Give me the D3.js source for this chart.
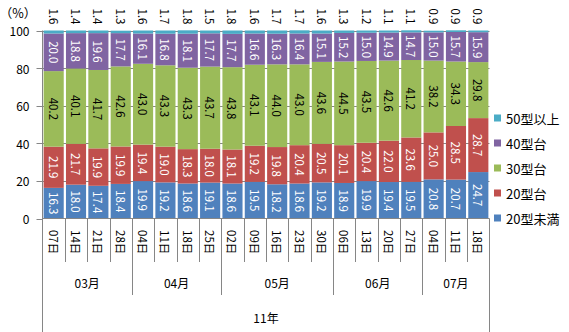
<!DOCTYPE html>
<html>
<head>
<meta charset="utf-8">
<script src="https://cdn.jsdelivr.net/npm/d3@7"></script>
<style>
  html, body { margin: 0; padding: 0; background: #fff; }
  svg { display: block; font-family: "Noto Sans CJK JP", "Noto Sans", sans-serif; }
</style>
</head>
<body>
<svg id="chart" width="569" height="332"></svg>
<script>
// Weekly share of TV sales by screen size (2011, March–July)
const days = ["07日","14日","21日","28日","04日","11日","18日","25日","02日","09日","16日","23日","30日",
              "06日","13日","20日","27日","04日","11日","18日"];
const months = ["03月","03月","03月","03月","04月","04月","04月","04月","05月","05月","05月","05月","05月",
                "06月","06月","06月","06月","07月","07月","07月"];
const yearLabel = "11年";

const seriesNames = ["20型未満","20型台","30型台","40型台","50型以上"];
const under20 = [16.3,18.0,17.4,18.4,19.9,19.2,18.6,19.1,18.6,19.5,18.2,18.6,19.2,18.9,19.9,19.4,19.5,20.8,20.7,24.7];
const size20s = [21.9,21.7,19.9,19.9,19.4,19.0,18.3,18.0,18.1,19.2,19.8,20.4,20.5,20.1,20.4,22.0,23.6,25.0,28.5,28.7];
const size30s = [40.2,40.1,41.7,42.6,43.0,43.3,43.3,43.7,43.8,43.1,44.0,43.0,43.6,44.5,43.5,42.6,41.2,38.2,34.3,29.8];
const size40s = [20.0,18.8,19.6,17.7,16.1,16.8,18.1,17.7,17.7,16.6,16.3,16.4,15.1,15.2,15.0,14.9,14.7,15.0,15.7,15.9];
const size50up = [1.6,1.4,1.4,1.3,1.6,1.7,1.8,1.5,1.8,1.6,1.7,1.7,1.6,1.3,1.2,1.1,1.1,0.9,0.9,0.9];
const yTicks = [0,20,40,60,80,100];

const colors = ["#4F81BD","#C0504D","#9BBB59","#8064A2","#4BACC6"];
const labelColors = ["#fff","#fff","#000","#fff","#000"];
const gridColor = "#868686";

const seriesValues = [under20, size20s, size30s, size40s, size50up];
const rows = days.map((d, i) => {
  const r = { idx: i };
  seriesNames.forEach((s, k) => { r[s] = seriesValues[k][i]; });
  return r;
});

const svg = d3.select("#chart");
const plotLeft = 42.5, plotRight = 489.5, plotTop = 30.5, plotBottom = 218.5;

const x = d3.scaleBand().domain(d3.range(days.length)).range([plotLeft, plotRight])
  .paddingInner(0.1).paddingOuter(0.05);
const y = d3.scaleLinear().domain([0, 100]).range([plotBottom, plotTop]);

// horizontal gridlines
svg.append("g").selectAll("line").data(yTicks.filter(t => t > 0)).join("line")
  .attr("x1", plotLeft).attr("x2", plotRight)
  .attr("y1", d => Math.round(y(d)) + 0.5).attr("y2", d => Math.round(y(d)) + 0.5)
  .attr("stroke", gridColor).attr("stroke-width", 1);

// stacked bars
const stacked = d3.stack().keys(seriesNames)(rows);
const layers = svg.append("g").selectAll("g").data(stacked).join("g")
  .attr("fill", (d, k) => colors[k]);
layers.selectAll("rect").data(d => d).join("rect")
  .attr("x", d => x(d.data.idx))
  .attr("width", x.bandwidth())
  .attr("y", d => y(d[1]))
  .attr("height", d => y(d[0]) - y(d[1]));

// value labels inside segments (rotated); the top series is labelled above the plot
stacked.forEach((layer, k) => {
  const g = svg.append("g")
    .attr("font-size", 11.5)
    .attr("fill", labelColors[k]);
  layer.forEach(d => {
    const cx = x(d.data.idx) + x.bandwidth() / 2;
    const cy = k === 4 ? y(100) - 14 : (y(d[0]) + y(d[1])) / 2;
    g.append("text")
      .attr("transform", `translate(${cx},${cy}) rotate(90)`)
      .attr("text-anchor", "middle")
      .attr("dominant-baseline", "central")
      .text(d.data[seriesNames[k]].toFixed(1));
  });
});

// y axis
const yAxis = svg.append("g");
yAxis.append("line").attr("x1", plotLeft).attr("x2", plotLeft).attr("y1", plotTop).attr("y2", 332)
  .attr("stroke", gridColor);
yAxis.selectAll("line.tick").data(yTicks).join("line").attr("class", "tick")
  .attr("x1", plotLeft - 6).attr("x2", plotLeft)
  .attr("y1", d => Math.round(y(d)) + 0.5).attr("y2", d => Math.round(y(d)) + 0.5)
  .attr("stroke", gridColor);
yAxis.selectAll("text").data(yTicks).join("text")
  .attr("x", plotLeft - 13).attr("y", d => y(d))
  .attr("text-anchor", "end").attr("dominant-baseline", "central")
  .attr("font-size", 12).attr("fill", "#000")
  .text(d => d);
svg.append("text").attr("x", 18).attr("y", 12)
  .attr("text-anchor", "middle").attr("dominant-baseline", "central")
  .attr("font-size", 12.5).text("（%）");

// category axis: baseline
svg.append("line").attr("x1", plotLeft).attr("x2", plotRight).attr("y1", plotBottom).attr("y2", plotBottom)
  .attr("stroke", gridColor);

// day separators and labels
const step = x.step();
const dayEdges = d3.range(1, days.length);
svg.append("g").selectAll("line").data(dayEdges).join("line")
  .attr("x1", i => Math.round(plotLeft + i * step) + 0.5).attr("x2", i => Math.round(plotLeft + i * step) + 0.5)
  .attr("y1", plotBottom).attr("y2", 262)
  .attr("stroke", gridColor);
svg.append("g").selectAll("text").data(days).join("text")
  .attr("transform", (d, i) => `translate(${x(i) + x.bandwidth() / 2},230) rotate(90)`)
  .attr("text-anchor", "start").attr("dominant-baseline", "central")
  .attr("font-size", 11.5).text(d => d);

// month groups
const monthGroups = [];
months.forEach((m, i) => {
  const last = monthGroups[monthGroups.length - 1];
  if (last && last.label === m) last.end = i + 1;
  else monthGroups.push({ label: m, start: i, end: i + 1 });
});
svg.append("g").selectAll("line").data(monthGroups.slice(1)).join("line")
  .attr("x1", g => Math.round(plotLeft + g.start * step) + 0.5).attr("x2", g => Math.round(plotLeft + g.start * step) + 0.5)
  .attr("y1", plotBottom).attr("y2", 295)
  .attr("stroke", gridColor);
svg.append("g").selectAll("text").data(monthGroups).join("text")
  .attr("x", g => plotLeft + (g.start + g.end) / 2 * step)
  .attr("y", 282)
  .attr("text-anchor", "middle").attr("dominant-baseline", "central")
  .attr("font-size", 12).text(g => g.label);

// year group
svg.append("line").attr("x1", plotRight).attr("x2", plotRight).attr("y1", plotBottom).attr("y2", 332)
  .attr("stroke", gridColor);
svg.append("text").attr("x", (plotLeft + plotRight) / 2).attr("y", 317)
  .attr("text-anchor", "middle").attr("dominant-baseline", "central")
  .attr("font-size", 12).text(yearLabel);

// legend (largest size on top)
const legend = svg.append("g");
const legendItems = seriesNames.map((s, k) => ({ s, k })).reverse();
legendItems.forEach((item, j) => {
  const ly = 118 + j * 25;
  legend.append("rect").attr("x", 494).attr("y", ly - 3.5).attr("width", 7).attr("height", 7)
    .attr("fill", colors[item.k]);
  legend.append("text").attr("x", 506).attr("y", ly)
    .attr("dominant-baseline", "central").attr("font-size", 13).text(item.s);
});
</script>
</body>
</html>
